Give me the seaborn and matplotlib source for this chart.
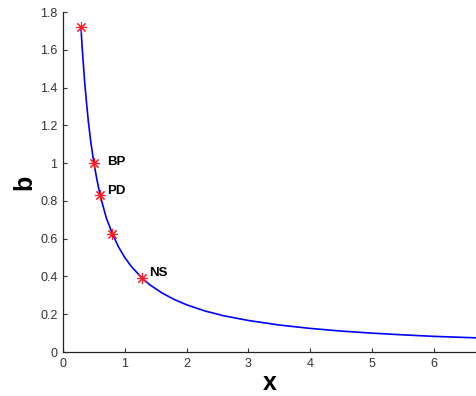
import matplotlib
matplotlib.use("Agg")
import matplotlib.pyplot as plt
import seaborn as sns
import pandas as pd

# curve
curve_x = [0.29, 0.31, 0.33, 0.35, 0.38, 0.41, 0.45, 0.50, 0.55, 0.60, 0.65, 0.70,
           0.80, 0.90, 1.00, 1.10, 1.27, 1.40, 1.60, 1.80, 2.00, 2.30, 2.60, 3.00,
           3.50, 4.00, 4.50, 5.00, 5.50, 6.00, 6.70]
curve_b = [1.72, 1.61, 1.52, 1.43, 1.32, 1.22, 1.11, 1.00, 0.91, 0.83, 0.77, 0.71,
           0.625, 0.555, 0.50, 0.455, 0.394, 0.357, 0.313, 0.278, 0.25, 0.217, 0.192, 0.167,
           0.143, 0.125, 0.111, 0.100, 0.091, 0.083, 0.075]

# highlighted points
point_x = [0.29, 0.50, 0.60, 0.80, 1.27]
point_b = [1.72, 1.00, 0.83, 0.625, 0.394]

# annotations
label_text = ["BP", "PD", "NS"]
label_x = [0.72, 0.72, 1.40]
label_b = [1.005, 0.85, 0.418]

sns.set_style("ticks")
plt.rcParams['font.family'] = ['Liberation Sans', 'DejaVu Sans']
plt.rcParams['xtick.direction'] = 'in'
plt.rcParams['ytick.direction'] = 'in'

fig = plt.figure(figsize=(4.76, 3.96), dpi=100)
ax = fig.add_axes([0.1324, 0.111, 0.8676, 0.8586])

df_curve = pd.DataFrame({"x": curve_x, "b": curve_b})
df_pts = pd.DataFrame({"x": point_x, "b": point_b})

sns.lineplot(data=df_curve, x="x", y="b", sort=False, color=(0, 0, 1), linewidth=1.2, ax=ax)
sns.lineplot(data=df_pts, x="x", y="b", sort=False, linestyle='', marker=(8, 2, 0),
             markersize=8, markeredgewidth=0.8, color=(1, 0.1, 0.15),
             markeredgecolor=(1, 0.1, 0.15), markerfacecolor=(1, 0.1, 0.15), ax=ax)

for t, x, y in zip(label_text, label_x, label_b):
    ax.text(x, y, t, fontsize=9.5, fontweight='bold', va='center', ha='left', color='black')

ax.set_xlim(0, 6.68)
ax.set_ylim(0, 1.8)
ax.set_xticks([0, 1, 2, 3, 4, 5, 6])
ax.set_xticklabels(["0", "1", "2", "3", "4", "5", "6"])
ax.set_yticks([0, 0.2, 0.4, 0.6, 0.8, 1.0, 1.2, 1.4, 1.6, 1.8])
ax.set_yticklabels(["0", "0.2", "0.4", "0.6", "0.8", "1", "1.2", "1.4", "1.6", "1.8"])
ax.tick_params(labelsize=9, colors='#333333', length=3, width=0.8, pad=4)
for s in ["left", "bottom"]:
    ax.spines[s].set_color('#222222')
    ax.spines[s].set_linewidth(0.9)
sns.despine(ax=ax)

ax.set_xlabel("x", fontsize=18, fontweight='bold', labelpad=1, color='black')
ax.set_ylabel("b", fontsize=18, fontweight='bold', labelpad=3, color='black')

fig.savefig("out.png", dpi=100)
